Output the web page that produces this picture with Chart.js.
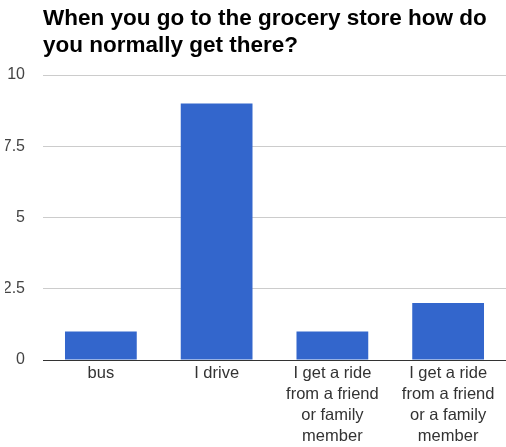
<!DOCTYPE html>
<html>
<head>
<meta charset="utf-8">
<script src="https://cdn.jsdelivr.net/npm/chart.js@4"></script>
<style>
  body { margin: 0; background: #fff; }
</style>
</head>
<body>
<canvas id="groceryChart" width="506" height="447"></canvas>
<script>
// survey answers
const answers = [
    "bus",
    "I drive",
    ["I get a ride", "from a friend", "or family", "member"],
    ["I get a ride", "from a friend", "or a family", "member"]
];
const counts = [1, 9, 1, 2];
const yTicks = [0, 2.5, 5, 7.5, 10];

const titleLines = ["When you go to the grocery store how do", "you normally get there?"];

const ctx = document.getElementById('groceryChart').getContext('2d');
new Chart(ctx, {
    type: 'bar',
    data: {
        labels: answers,
        datasets: [{
            data: counts,
            backgroundColor: '#3366cc',
            borderWidth: 0,
            barPercentage: 0.62,
            categoryPercentage: 1
        }]
    },
    options: {
        responsive: false,
        animation: false,
        layout: { padding: { left: 5, right: 0, top: 5, bottom: 2 } },
        plugins: {
            legend: { display: false },
            tooltip: { enabled: false },
            title: {
                display: true,
                text: titleLines,
                align: 'start',
                fullSize: false,
                color: '#000',
                font: { family: 'Arial, "Liberation Sans"', size: 22.5, weight: 'bold', lineHeight: 1.2 },
                padding: { top: 0, bottom: 16 }
            }
        },
        scales: {
            y: {
                min: 0,
                max: 10,
                afterBuildTicks: (axis) => { axis.ticks = yTicks.map(v => ({ value: v })); },
                afterFit: (axis) => { axis.width = 38; },
                border: { display: false },
                grid: {
                    drawTicks: false,
                    color: (c) => c.tick && c.tick.value === 0 ? '#333' : '#ccc'
                },
                ticks: {
                    padding: 18,
                    color: '#444',
                    font: { family: 'Arial, "Liberation Sans"', size: 16 }
                }
            },
            x: {
                afterFit: (axis) => { axis.height = 85; },
                border: { display: false },
                grid: { display: false, drawTicks: false },
                ticks: {
                    padding: 3,
                    maxRotation: 0,
                    autoSkip: false,
                    color: '#333',
                    font: { family: 'Arial, "Liberation Sans"', size: 16.5, lineHeight: 1.28 }
                }
            }
        }
    }
});
</script>
</body>
</html>
